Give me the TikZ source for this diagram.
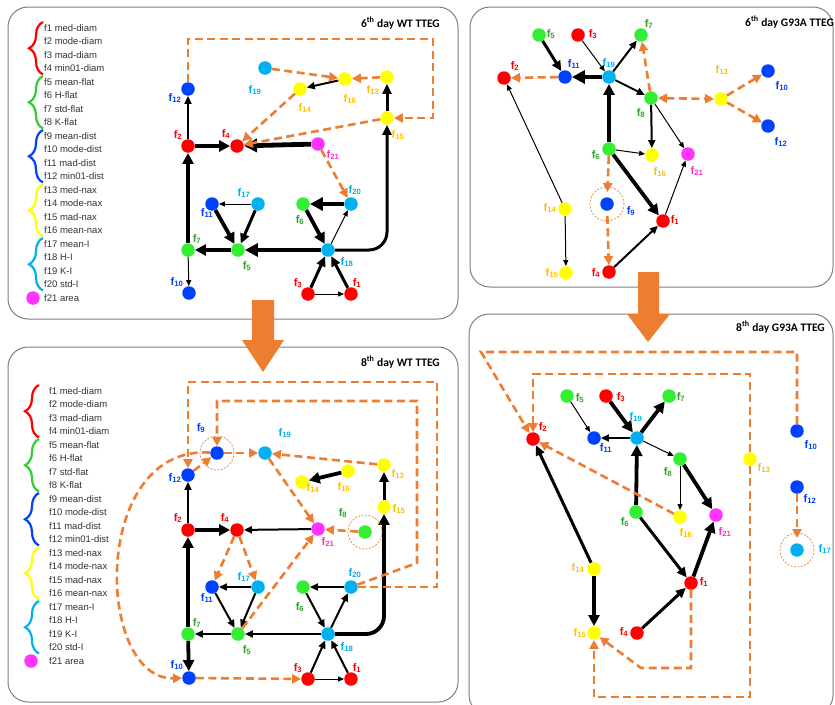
\documentclass[tikz,border=0pt]{standalone}
\usepackage{fontspec}
\setmainfont{Liberation Sans}
\newfontfamily\titlefont{Carlito}
\usetikzlibrary{arrows.meta, decorations.pathreplacing}
\definecolor{fred}{HTML}{FF0000}
\definecolor{fgreen}{HTML}{33EE33}
\definecolor{fblue}{HTML}{0040FF}
\definecolor{fyellow}{HTML}{FFFF00}
\definecolor{fcyan}{HTML}{00B0F0}
\definecolor{fmag}{HTML}{FF33FF}
\definecolor{lgreen}{HTML}{33A02C}
\definecolor{lgold}{HTML}{FFC000}
\definecolor{lmag}{HTML}{FF33CC}
\definecolor{bgreen}{HTML}{33CC33}
\definecolor{forange}{HTML}{ED7D31}
\definecolor{framegray}{HTML}{7F7F7F}
\newcommand{\featlist}{1/med-diam,2/mode-diam,3/mad-diam,4/min01-diam,5/mean-flat,6/H-flat,7/std-flat,8/K-flat,9/mean-dist,10/mode-dist,11/mad-dist,12/min01-dist,13/med-nax,14/mode-nax,15/mad-nax,16/mean-nax,17/mean-I,18/H-I,19/K-I,20/std-I}

\begin{document}
\begin{tikzpicture}[x=1pt, y=-1pt,
  nd/.style={circle, inner sep=0pt, minimum size=13.5pt},
  rn/.style={nd, fill=fred}, gn/.style={nd, fill=fgreen}, bn/.style={nd, fill=fblue},
  yn/.style={nd, fill=fyellow}, cn/.style={nd, fill=fcyan}, mn/.style={nd, fill=fmag},
  lab/.style={font=\fontsize{11}{11}\selectfont\bfseries, inner sep=0pt},
  rl/.style={lab, text=fred}, gl/.style={lab, text=lgreen}, bl/.style={lab, text=fblue},
  yl/.style={lab, text=lgold}, cl/.style={lab, text=fcyan}, ml/.style={lab, text=lmag},
  w1/.style={-{Triangle[length=6pt,width=5pt]}, line width=1pt},
  w2/.style={-{Triangle[length=8pt,width=7pt]}, line width=2pt},
  w3/.style={-{Triangle[length=10pt,width=9pt]}, line width=3pt},
  w4/.style={-{Triangle[length=11pt,width=11pt]}, line width=3.8pt},
  w5/.style={-{Triangle[length=13pt,width=13pt]}, line width=4.8pt},
  od/.style={draw=forange, line width=2.6pt, dash pattern=on 8pt off 4.5pt,
    -{Triangle[length=9pt,width=9pt]}},
  ring/.style={draw=forange, line width=0.7pt, dash pattern=on 2pt off 1.5pt},
  panel/.style={draw=framegray, line width=1pt, rounded corners=20pt, fill=white},
  ttl/.style={font=\titlefont\fontsize{11.5}{12}\selectfont\bfseries, anchor=east, inner sep=0pt},
  leg/.style={font=\fontsize{9.5}{9.5}\selectfont, anchor=west, inner sep=0pt, text=black!80},
  brc/.style={line width=2.2pt, decorate, decoration={brace, amplitude=14pt}}]
\clip (0,0) rectangle (835,704);
\fill[white] (0,0) rectangle (835,704);

% panels
\draw[panel] (8,7) rectangle (458,319);
\draw[panel] (470,7) rectangle (833,287);
\draw[panel] (8,347) rectangle (458,702);
\draw[panel] (469,314) rectangle (833,715);

% block arrows between days
\fill[forange] (252,300) -- (274,300) -- (274,340) -- (284,340) -- (263,372) -- (242,340) -- (252,340) -- cycle;
\fill[forange] (638,272) -- (659,272) -- (659,314) -- (670,314) -- (648,342) -- (627,314) -- (638,314) -- cycle;

% titles
\node[ttl] (ta) at (440,23) {6\textsuperscript{th} day WT TTEG};
\node[ttl] (tb) at (834,22) {6\textsuperscript{th} day G93A TTEG};
\node[ttl] (tc) at (440,362) {8\textsuperscript{th} day WT TTEG};
\node[ttl] (td) at (825,327) {8\textsuperscript{th} day G93A TTEG};

% legends
\foreach \i/\nm in \featlist {
  \node[leg] (ka\i) at (44, {28+13.5*(\i-1)}) {f\i\ \nm};
  \node[leg] (kc\i) at (49, {391+13.5*(\i-1)}) {f\i\ \nm};
}
\foreach \c [count=\g] in {fred,bgreen,fblue,fyellow,fcyan} {
  \draw[brc, \c] (43, {28+54*(\g-1)+46.5}) -- (43, {28+54*(\g-1)-6});
  \draw[brc, \c] (39, {391+54*(\g-1)+46.5}) -- (39, {391+54*(\g-1)-6});
}
\node[mn] (ka21dot) at (33,298) {};
\node[leg] (ka21) at (44,298) {f21 area};
\node[mn] (kc21dot) at (31,661) {};
\node[leg] (kc21) at (49,661) {f21 area};

% 6th day WT
\node[rn] (a1) at (351,294) {};  \node[rl] (a1l) at (357,283) {f\textsubscript{1}};
\node[rn] (a2) at (188,146) {};  \node[rl] (a2l) at (178,135) {f\textsubscript{2}};
\node[rn] (a3) at (308,294) {};  \node[rl] (a3l) at (298,283) {f\textsubscript{3}};
\node[rn] (a4) at (237,146) {};  \node[rl] (a4l) at (226,134) {f\textsubscript{4}};
\node[gn] (a5) at (238,250) {};  \node[gl] (a5l) at (247,266) {f\textsubscript{5}};
\node[gn] (a6) at (303,204) {};  \node[gl] (a6l) at (300,220) {f\textsubscript{6}};
\node[gn] (a7) at (188,250) {};  \node[gl] (a7l) at (197,239) {f\textsubscript{7}};
\node[bn] (a10) at (189,293) {}; \node[bl] (a10l) at (177,282) {f\textsubscript{10}};
\node[bn] (a11) at (212,204) {}; \node[bl] (a11l) at (207,213) {f\textsubscript{11}};
\node[bn] (a12) at (188,89) {};  \node[bl] (a12l) at (175,98) {f\textsubscript{12}};
\node[yn] (a13) at (387,77) {};  \node[yl] (a13l) at (373,90) {f\textsubscript{13}};
\node[yn] (a14) at (300,89) {};  \node[yl] (a14l) at (305,108) {f\textsubscript{14}};
\node[yn] (a15) at (387,118) {}; \node[yl] (a15l) at (398,135) {f\textsubscript{15}};
\node[yn] (a16) at (345,79) {};  \node[yl] (a16l) at (350,99) {f\textsubscript{16}};
\node[cn] (a17) at (258,204) {}; \node[cl] (a17l) at (244,193) {f\textsubscript{17}};
\node[cn] (a18) at (328,250) {}; \node[cl] (a18l) at (347,262) {f\textsubscript{18}};
\node[cn] (a19) at (265,68) {};  \node[cl] (a19l) at (255,90) {f\textsubscript{19}};
\node[cn] (a20) at (351,204) {}; \node[cl] (a20l) at (355,190) {f\textsubscript{20}};
\node[mn] (a21) at (318,144) {}; \node[ml] (a21l) at (333,155) {f\textsubscript{21}};
\coordinate (ak) at (433,39);

\draw[w2] (a2) -- (a12);
\draw[w4] (a2) -- (a4);
\draw[w5] (a21) -- (a4);
\draw[w4] (a7) -- (a2);
\draw[w1] (a7) -- (a10);
\draw[w4] (a5) -- (a7);
\draw[w5] (a18) -- (a5);
\draw[w1] (a17) -- (a11);
\draw[w4] (a11) -- (a5);
\draw[w3] (a17) -- (a5);
\draw[w5] (a20) -- (a6);
\draw[w4] (a6) -- (a18);
\draw[w1] (a18) -- (a20);
\draw[w3] (a3) -- (a18);
\draw[w3] (a1) -- (a18);
\draw[w1] (a3) -- (a1);
\draw[w3, rounded corners=18pt] (a18) -| (a15);
\draw[w3] (a15) -- (a13);
\draw[w2] (a16) -- (a14);
\draw[od] (a19) -- (a16);
\draw[od] (a13) -- (a16);
\draw[od] (a14) -- (a4);
\draw[od] (a15) -- (a4);
\draw[od] (a21) -- (a20);
\draw[od] (a12) |- (ak) |- (a15);

% 6th day G93A
\node[rn] (b1) at (663,221) {};  \node[rl] (b1l) at (675,220) {f\textsubscript{1}};
\node[rn] (b2) at (504,78) {};   \node[rl] (b2l) at (515,66) {f\textsubscript{2}};
\node[rn] (b3) at (578,35) {};   \node[rl] (b3l) at (593,34) {f\textsubscript{3}};
\node[rn] (b4) at (609,272) {};  \node[rl] (b4l) at (596,273) {f\textsubscript{4}};
\node[gn] (b5) at (539,35) {};   \node[gl] (b5l) at (551,34) {f\textsubscript{5}};
\node[gn] (b6) at (609,149) {};  \node[gl] (b6l) at (596,155) {f\textsubscript{6}};
\node[gn] (b7) at (641,35) {};   \node[gl] (b7l) at (649,24) {f\textsubscript{7}};
\node[gn] (b8) at (651,98) {};   \node[gl] (b8l) at (641,113) {f\textsubscript{8}};
\node[bn] (b9) at (607,204) {};  \node[bl] (b9l) at (631,211) {f\textsubscript{9}};
\node[bn] (b10) at (768,71) {};  \node[bl] (b10l) at (782,86) {f\textsubscript{10}};
\node[bn] (b11) at (565,77) {};  \node[bl] (b11l) at (574,64) {f\textsubscript{11}};
\node[bn] (b12) at (768,126) {}; \node[bl] (b12l) at (781,142) {f\textsubscript{12}};
\node[yn] (b13) at (721,99) {};  \node[yl] (b13l) at (722,70) {f\textsubscript{13}};
\node[yn] (b14) at (565,209) {}; \node[yl] (b14l) at (550,208) {f\textsubscript{14}};
\node[yn] (b15) at (566,273) {}; \node[yl] (b15l) at (552,273) {f\textsubscript{15}};
\node[yn] (b16) at (652,155) {}; \node[yl] (b16l) at (660,172) {f\textsubscript{16}};
\node[cn] (b19) at (609,77) {};  \node[cl] (b19l) at (609,63) {f\textsubscript{19}};
\node[mn] (b21) at (688,154) {}; \node[ml] (b21l) at (697,171) {f\textsubscript{21}};

\draw[w3] (b5) -- (b11);
\draw[w1] (b3) -- (b19);
\draw[w5] (b19) -- (b11);
\draw[w2] (b19) -- (b7);
\draw[w2] (b19) -- (b8);
\draw[w4] (b6) -- (b19);
\draw[w2] (b8) -- (b16);
\draw[w1] (b8) -- (b21);
\draw[w1] (b6) -- (b16);
\draw[w4] (b6) -- (b1);
\draw[w1] (b1) -- (b21);
\draw[w2] (b4) -- (b1);
\draw[w1] (b14) -- (b2);
\draw[w1] (b14) -- (b15);
\draw[od] (b8) -- (b7);
\draw[od] (b11) -- (b2);
\draw[od, {Triangle[length=9pt,width=9pt]}-{Triangle[length=9pt,width=9pt]}] (b8) -- (b13);
\draw[od] (b13) -- (b10);
\draw[od] (b13) -- (b12);
\draw[od, shorten >=5pt] (b6) -- (b9);
\draw[od, shorten <=5pt] (b9) -- (b4);
\draw[ring] (b9) circle (17pt);

% 8th day WT
\node[rn] (c1) at (351,679) {};  \node[rl] (c1l) at (357,668) {f\textsubscript{1}};
\node[rn] (c2) at (188,530) {};  \node[rl] (c2l) at (178,518) {f\textsubscript{2}};
\node[rn] (c3) at (308,679) {};  \node[rl] (c3l) at (298,668) {f\textsubscript{3}};
\node[rn] (c4) at (237,530) {};  \node[rl] (c4l) at (225,518) {f\textsubscript{4}};
\node[gn] (c5) at (238,634) {};  \node[gl] (c5l) at (247,650) {f\textsubscript{5}};
\node[gn] (c6) at (303,587) {};  \node[gl] (c6l) at (300,607) {f\textsubscript{6}};
\node[gn] (c7) at (188,634) {};  \node[gl] (c7l) at (197,623) {f\textsubscript{7}};
\node[gn] (c8) at (365,532) {};  \node[gl] (c8l) at (343,513) {f\textsubscript{8}};
\node[bn] (c9) at (217,453) {};  \node[bl] (c9l) at (201,428) {f\textsubscript{9}};
\node[bn] (c10) at (189,678) {}; \node[bl] (c10l) at (177,665) {f\textsubscript{10}};
\node[bn] (c11) at (212,587) {}; \node[bl] (c11l) at (207,598) {f\textsubscript{11}};
\node[bn] (c12) at (188,475) {}; \node[bl] (c12l) at (175,478) {f\textsubscript{12}};
\node[yn] (c13) at (384,465) {}; \node[yl] (c13l) at (398,474) {f\textsubscript{13}};
\node[yn] (c14) at (302,482) {}; \node[yl] (c14l) at (313,488) {f\textsubscript{14}};
\node[yn] (c15) at (384,507) {}; \node[yl] (c15l) at (399,509) {f\textsubscript{15}};
\node[yn] (c16) at (348,471) {}; \node[yl] (c16l) at (344,487) {f\textsubscript{16}};
\node[cn] (c17) at (258,587) {}; \node[cl] (c17l) at (244,577) {f\textsubscript{17}};
\node[cn] (c18) at (328,634) {}; \node[cl] (c18l) at (347,647) {f\textsubscript{18}};
\node[cn] (c19) at (265,453) {}; \node[cl] (c19l) at (285,433) {f\textsubscript{19}};
\node[cn] (c20) at (351,587) {}; \node[cl] (c20l) at (355,573) {f\textsubscript{20}};
\node[mn] (c21) at (318,529) {}; \node[ml] (c21l) at (328,542) {f\textsubscript{21}};
\coordinate (ck1) at (437,382);
\coordinate (ck2) at (417,563);
\coordinate (ck3) at (417,401);

\draw[w2] (c2) -- (c12);
\draw[w4] (c2) -- (c4);
\draw[w2] (c21) -- (c4);
\draw[w4] (c7) -- (c2);
\draw[w4] (c7) -- (c10);
\draw[w2] (c5) -- (c7);
\draw[w2] (c18) -- (c5);
\draw[w2] (c17) -- (c11);
\draw[w2] (c11) -- (c5);
\draw[w2] (c17) -- (c5);
\draw[w2] (c20) -- (c6);
\draw[w2] (c6) -- (c18);
\draw[w2] (c18) -- (c20);
\draw[w2] (c3) -- (c18);
\draw[w2] (c1) -- (c18);
\draw[w1] (c3) -- (c1);
\draw[w4, rounded corners=18pt] (c18) -| (c15);
\draw[w3] (c15) -- (c13);
\draw[w4] (c16) -- (c14);
\draw[od] (c4) -- (c11);
\draw[od] (c4) -- (c17);
\draw[od] (c5) -- (c21);
\draw[od] (c19) -- (c21);
\draw[od] (c8) -- (c21);
\draw[od] (c13) -- (c19);
\draw[od] (c12) -- (c9);
\draw[od] (c9) -- (c19);
\draw[od] (c10) -- (c3);
\draw[od] (c20) -| (ck1) -| (c12);
\draw[od] (c20) -- (ck2) -- (ck3) -| (c9);
\draw[od] (c9) .. controls (90,445) and (95,680) .. (c10);
\draw[ring] (c9) circle (17pt);
\draw[ring] (c8) circle (17pt);

% 8th day G93A
\node[rn] (d1) at (691,583) {};  \node[rl] (d1l) at (704,582) {f\textsubscript{1}};
\node[rn] (d2) at (533,439) {};  \node[rl] (d2l) at (543,427) {f\textsubscript{2}};
\node[rn] (d3) at (606,396) {};  \node[rl] (d3l) at (621,397) {f\textsubscript{3}};
\node[rn] (d4) at (637,633) {};  \node[rl] (d4l) at (624,632) {f\textsubscript{4}};
\node[gn] (d5) at (567,396) {};  \node[gl] (d5l) at (580,398) {f\textsubscript{5}};
\node[gn] (d6) at (636,512) {};  \node[gl] (d6l) at (625,522) {f\textsubscript{6}};
\node[gn] (d7) at (669,396) {};  \node[gl] (d7l) at (681,397) {f\textsubscript{7}};
\node[gn] (d8) at (680,459) {};  \node[gl] (d8l) at (668,472) {f\textsubscript{8}};
\node[bn] (d10) at (797,431) {}; \node[bl] (d10l) at (811,445) {f\textsubscript{10}};
\node[bn] (d11) at (594,438) {}; \node[bl] (d11l) at (606,448) {f\textsubscript{11}};
\node[bn] (d12) at (797,487) {}; \node[bl] (d12l) at (810,499) {f\textsubscript{12}};
\node[yn] (d13) at (750,459) {}; \node[yl] (d13l) at (764,468) {f\textsubscript{13}};
\node[yn] (d14) at (594,569) {}; \node[yl] (d14l) at (578,568) {f\textsubscript{14}};
\node[yn] (d15) at (594,633) {}; \node[yl] (d15l) at (580,633) {f\textsubscript{15}};
\node[yn] (d16) at (680,517) {}; \node[yl] (d16l) at (686,533) {f\textsubscript{16}};
\node[cn] (d17) at (797,550) {}; \node[cl] (d17l) at (825,549) {f\textsubscript{17}};
\node[cn] (d19) at (637,438) {}; \node[cl] (d19l) at (636,417) {f\textsubscript{19}};
\node[mn] (d21) at (716,515) {}; \node[ml] (d21l) at (725,532) {f\textsubscript{21}};
\coordinate (dk1) at (481,352);
\coordinate (dk2) at (533,374);
\coordinate (dk3) at (594,697);
\coordinate (dk4) at (641,668);

\draw[w1] (d5) -- (d11);
\draw[w4] (d3) -- (d19);
\draw[w4] (d19) -- (d7);
\draw[w2] (d19) -- (d11);
\draw[w1] (d19) -- (d8);
\draw[w4] (d6) -- (d19);
\draw[w1] (d8) -- (d16);
\draw[w4] (d8) -- (d21);
\draw[w3] (d6) -- (d1);
\draw[w4] (d1) -- (d21);
\draw[w3] (d4) -- (d1);
\draw[w3] (d14) -- (d2);
\draw[w4] (d14) -- (d15);
\draw[od] (d16) -- (d2);
\draw[od, shorten >=5pt] (d12) -- (d17);
\draw[od] (d10) |- (dk1) -- (d2);
\draw[od] (d13) |- (dk2) -- (d2);
\draw[od] (d13) |- (dk3) -- (d15);
\draw[od] (d1) |- (dk4) -- (d15);
\draw[ring] (d17) circle (17pt);
\end{tikzpicture}
\end{document}
